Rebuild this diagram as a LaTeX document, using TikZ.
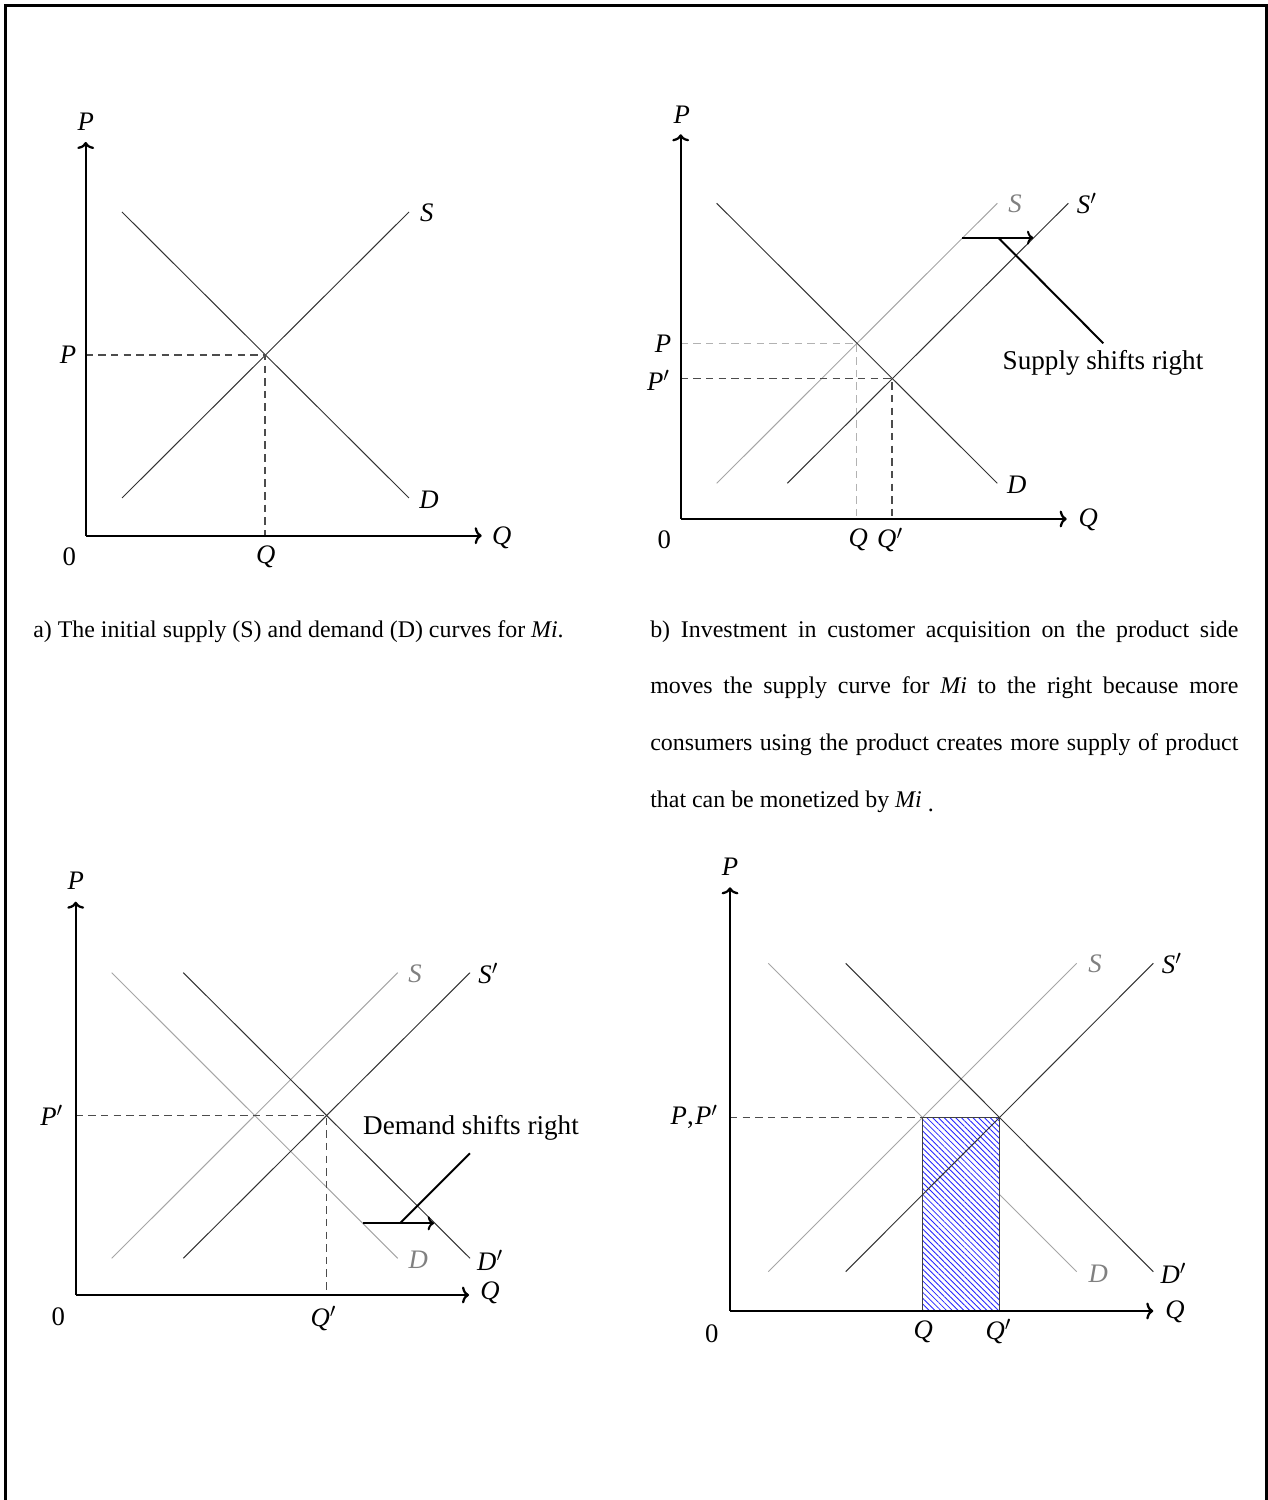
\documentclass[tikz,border=0pt]{standalone}
\usepackage{fontspec}
\setmainfont{Liberation Serif}
\usetikzlibrary{arrows.meta,patterns.meta}

\newcommand{\primed}[1]{\textit{#1}$'$}

\tikzset{
  axis/.style={line width=1.6pt, -{To[length=5pt,width=12pt]}},
  curve/.style={line width=0.7pt, black!80},
  oldcurve/.style={line width=0.7pt, black!35},
  guide/.style={line width=0.85pt, black!70, dash pattern=on 5.3pt off 3.7pt},
  oldguide/.style={guide, black!30},
  shiftarrow/.style={line width=1.4pt, -{To[length=4.5pt,width=10pt]}},
  leader/.style={line width=1.4pt},
  lbl/.style={font=\fontsize{19}{22}\selectfont, inner sep=0pt},
  oldlbl/.style={lbl, text=black!50},
  note/.style={font=\fontsize{19.3}{23}\selectfont, inner sep=0pt},
  capt/.style={font=\fontsize{17}{20}\selectfont, inner sep=0pt, anchor=west},
  area/.style={draw=black!75, line width=0.8pt, preaction={fill=white},
    pattern color=blue!85, pattern={Lines[angle=-45,distance=2.9pt,line width=0.6pt]}}
}

\begin{document}
\begin{tikzpicture}[x=0.025cm, y=0.025cm]
  \useasboundingbox (0,0) rectangle (1268,1500);
  % frame
  \draw[line width=2.3pt] (5.5,-5) -- (5.5,1494.5) -- (1266.3,1494.5) -- (1266.3,-5);

  % a) initial supply and demand
  \begin{scope}[shift={(85.7,964.3)}]
    \draw[curve] (36.3,323.7) -- (323.3,37.7);
    \draw[curve] (36.3,37.7) -- (323.3,323.7);
    \draw[guide] (0,180.7) -- (179.3,180.7) -- (179.3,0);
    \draw[axis] (0,0) -- (396,0);
    \draw[axis] (0,0) -- (0,393.7);
    \node[lbl] (aPax) at (0,414) {\textit{P}};
    \node[lbl] (aQax) at (416,-2) {\textit{Q}};
    \node[lbl] (a0) at (-16.4,-21) {0};
    \node[lbl] (aP) at (-17.7,180.7) {\textit{P}};
    \node[lbl] (aQ) at (180,-21) {\textit{Q}};
    \node[lbl] (aS) at (341,322.4) {\textit{S}};
    \node[lbl] (aD) at (343.3,35.7) {\textit{D}};
  \end{scope}

  % b) supply shifts right
  \begin{scope}[shift={(680.7,981)}]
    \draw[oldcurve] (36,35.7) -- (316.6,315.7);
    \draw[oldguide] (0,175.7) -- (176,175.7) -- (176,0);
    \draw[curve] (36,315.7) -- (316.6,35.7);
    \draw[curve] (106.6,35.7) -- (387.6,315.7);
    \draw[guide] (0,140.5) -- (211.3,140.5) -- (211.3,0);
    % shift arrow and note
    \draw[shiftarrow] (281.6,281.3) -- (352.6,281.3);
    \draw[leader] (317.6,281.3) -- (422.6,175.7);
    \node[note] (bnote) at (422.3,156) {Supply shifts right};
    \draw[axis] (0,0) -- (386,0);
    \draw[axis] (0,0) -- (0,384.7);
    \node[lbl] (bPax) at (1,404) {\textit{P}};
    \node[lbl] (bQax) at (407.6,-1) {\textit{Q}};
    \node[lbl] (b0) at (-16.4,-21) {0};
    \node[lbl] (bP) at (-17.7,175.7) {\textit{P}};
    \node[lbl] (bPp) at (-22.4,139) {\primed{P}};
    \node[lbl] (bQ) at (177.6,-21) {\textit{Q}};
    \node[lbl] (bQp) at (209.3,-21) {\primed{Q}};
    \node[oldlbl] (bS) at (334.3,315.7) {\textit{S}};
    \node[lbl] (bSp) at (406,315.7) {\primed{S}};
    \node[lbl] (bD) at (336,34) {\textit{D}};
  \end{scope}

  % c) demand shifts right
  \begin{scope}[shift={(75.7,205)}]
    \draw[oldcurve] (36,322.3) -- (322,36.7);
    \draw[oldcurve] (36,36.7) -- (322,322.3);
    \draw[curve] (107.6,36.7) -- (394.3,322.3);
    \draw[curve] (107.6,322.3) -- (394.3,36.7);
    \draw[guide] (0,179.5) -- (251,179.5) -- (251,0);
    % shift arrow and note
    \draw[shiftarrow] (287.6,71.7) -- (358.3,71.7);
    \draw[leader] (324.3,71.7) -- (394.3,141.7);
    \node[note] (cnote) at (395.3,167) {Demand shifts right};
    \draw[axis] (0,0) -- (393.3,0);
    \draw[axis] (0,0) -- (0,393.3);
    \node[lbl] (cPax) at (0,414.3) {\textit{P}};
    \node[lbl] (cQax) at (414.3,1.7) {\textit{Q}};
    \node[lbl] (c0) at (-17.4,-21.7) {0};
    \node[lbl] (cPp) at (-24,179.5) {\primed{P}};
    \node[lbl] (cQp) at (247.6,-23.3) {\primed{Q}};
    \node[oldlbl] (cS) at (339.3,321.7) {\textit{S}};
    \node[lbl] (cSp) at (412.6,321.7) {\primed{S}};
    \node[oldlbl] (cD) at (342.6,35) {\textit{D}};
    \node[lbl] (cDp) at (414.3,35) {\primed{D}};
  \end{scope}

  % d) both shift, same price
  \begin{scope}[shift={(730,189)}]
    \draw[oldcurve] (38.3,347.7) -- (346.7,39.3);
    \draw[oldcurve] (38.3,39.3) -- (346.7,347.7);
    \draw[area] (192.5,0) rectangle (269.5,193.5);
    \draw[curve] (115.7,39.3) -- (423.3,347.7);
    \draw[curve] (115.7,347.7) -- (423.3,39.3);
    \draw[guide] (0,193.5) -- (192.5,193.5);
    \draw[axis] (0,0) -- (423.3,0);
    \draw[axis] (0,0) -- (0,423.7);
    \node[lbl] (dPax) at (0,444.3) {\textit{P}};
    \node[lbl] (dQax) at (445,-0.7) {\textit{Q}};
    \node[lbl] (d0) at (-18.3,-22.3) {0};
    \node[lbl, anchor=east] (dP) at (-12,194) {\textit{P},\kern1pt\primed{P}};
    \node[lbl] (dQ) at (193.3,-20.7) {\textit{Q}};
    \node[lbl] (dQp) at (268.3,-20.7) {\primed{Q}};
    \node[oldlbl] (dS) at (365,347.7) {\textit{S}};
    \node[lbl] (dSp) at (441.7,347.7) {\primed{S}};
    \node[oldlbl] (dD) at (368.3,37.7) {\textit{D}};
    \node[lbl] (dDp) at (443.3,37.7) {\primed{D}};
  \end{scope}

  % captions
  \node[capt] (capa) at (33,868) {a) The initial supply (S) and demand (D) curves for \textit{Mi}.};
  \node[capt] (capb1) at (650,868) {\makebox[14.7cm][s]{b) Investment in customer acquisition on the product side}};
  \node[capt] (capb2) at (650,812) {\makebox[14.7cm][s]{moves the supply curve for \textit{Mi} to the right because more}};
  \node[capt] (capb3) at (650,755) {\makebox[14.7cm][s]{consumers using the product creates more supply of product}};
  \node[capt] (capb4) at (650,698) {that can be monetized by \textit{Mi}\ \raisebox{-0.15em}{.}};
\end{tikzpicture}
\end{document}
